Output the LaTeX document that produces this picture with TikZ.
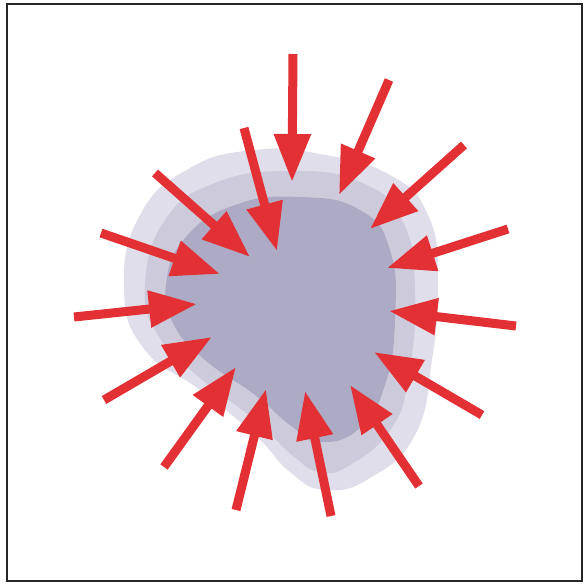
\documentclass[tikz,border=0pt]{standalone}
\usepackage{tikz}
\usetikzlibrary{arrows.meta}

\definecolor{shellout}{RGB}{224,222,234}
\definecolor{shellmid}{RGB}{205,203,219}
\definecolor{shellin}{RGB}{172,170,196}
\definecolor{pushred}{RGB}{226,48,52}

\begin{document}
\begin{tikzpicture}[
  x=1pt, y=-1pt,
  push/.style={-{Triangle[width=35pt,length=48pt]}, line width=9pt, draw=pushred, line cap=butt}
]
  \useasboundingbox (0,0) rectangle (584,586);
  \draw[line width=1.6pt, black!85] (7,4) rectangle (582,581);

  % the three shells of the body
  \fill[shellout] plot[smooth cycle, tension=0.8] coordinates {
    (124,290) (140,215) (190,168) (255,150) (320,154) (390,175) (428,215)
    (438,280) (432,360) (415,435) (370,478) (325,490) (290,472) (255,435)
    (200,390) (145,350)};
  \fill[shellmid] plot[smooth cycle, tension=0.8] coordinates {
    (145,285) (165,220) (215,183) (290,171) (360,182) (402,220) (415,290)
    (408,380) (390,430) (350,465) (320,472) (292,455) (255,420) (200,378)
    (158,335)};
  \fill[shellin] plot[smooth cycle, tension=0.8] coordinates {
    (166,285) (185,238) (235,205) (300,197) (360,210) (390,250) (395,320)
    (385,385) (360,428) (320,442) (290,425) (255,395) (205,360) (174,325)};

  % pressure from all sides
  \foreach \n/\tx/\ty/\hx/\hy in {
      a/293/54/292/182, b/389/80/339/195, c/464/145/370/229,
      d/508/229/387/268, e/516/326/389/311, f/482/415/374/352,
      g/419/486/350/385, h/331/516/305/391, i/236/510/266/389,
      j/164/467/236/367, k/104/400/212/337, l/74/317/197/304,
      m/101/233/220/274, n/155/173/250/257, o/244/128/277/251} {
    \coordinate (tail\n) at (\tx,\ty);
    \coordinate (tip\n) at (\hx,\hy);
    \draw[push] (tail\n) -- (tip\n);
  }
\end{tikzpicture}
\end{document}
